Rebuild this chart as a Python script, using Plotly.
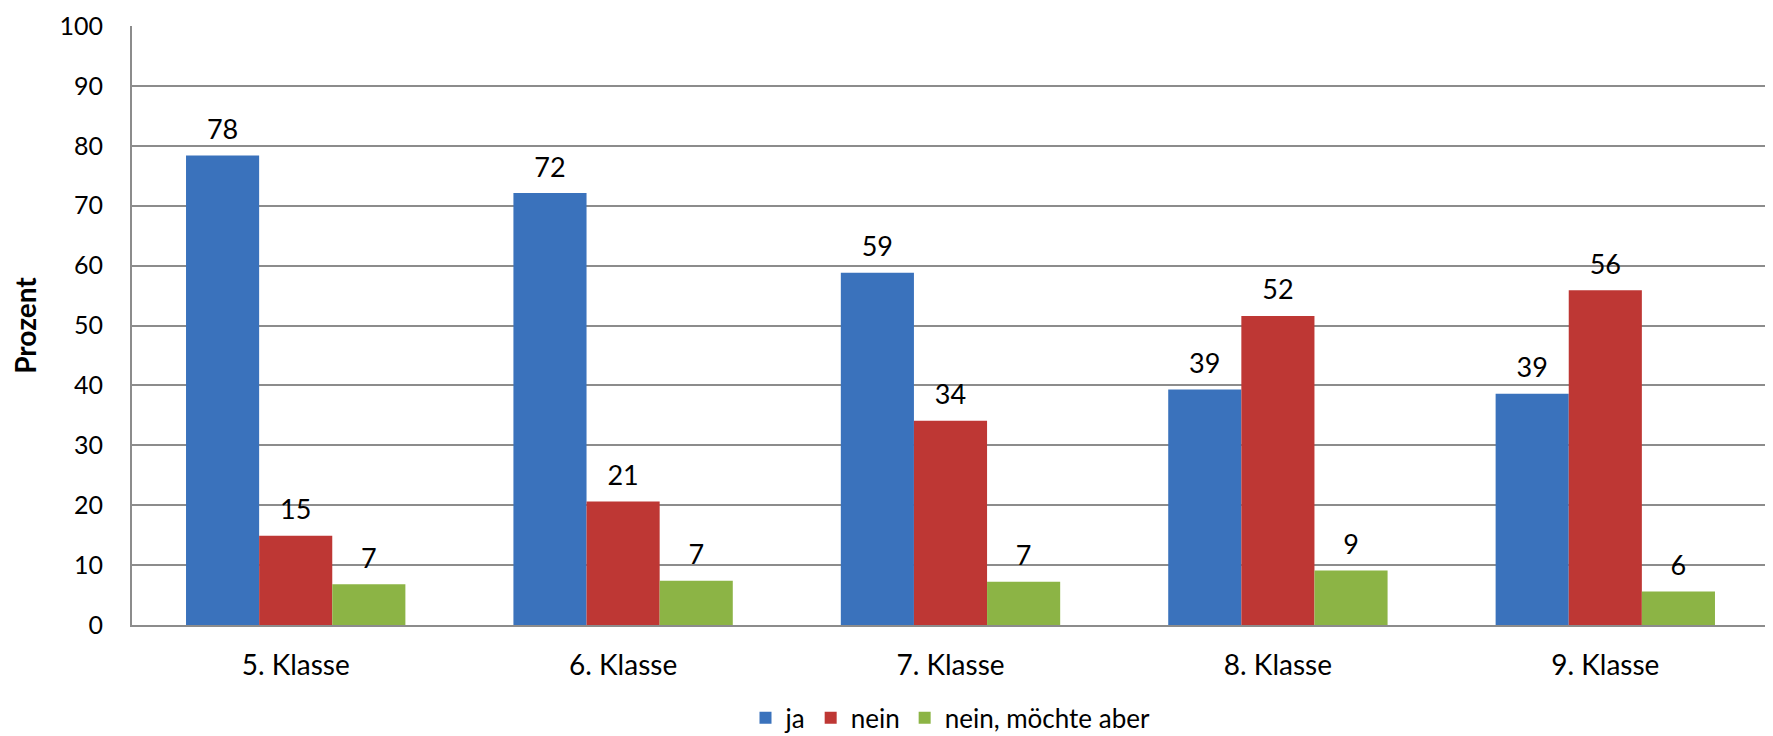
import plotly.graph_objects as go

klassen = ['5. Klasse', '6. Klasse', '7. Klasse', '8. Klasse', '9. Klasse']
ja = [78.4, 72.1, 58.8, 39.3, 38.6]
nein = [14.9, 20.6, 34.1, 51.6, 55.9]
nein_aber = [6.8, 7.4, 7.2, 9.1, 5.6]

series = [
    ('ja', ja, '#3A72BC'),
    ('nein', nein, '#BE3734'),
    ('nein, möchte aber', nein_aber, '#8CB445'),
]

FONT = 'Lato'

fig = go.Figure()

for i, (name, vals, color) in enumerate(series):
    fig.add_trace(go.Bar(
        x=klassen, y=vals, name=name,
        marker=dict(color=color, line=dict(width=0)),
        offsetgroup=str(i),
    ))

# data labels sit a bit above the bar tops, like in the original
for i, (name, vals, color) in enumerate(series):
    fig.add_trace(go.Scatter(
        x=klassen, y=vals, mode='markers+text',
        text=[f'{v:.0f}' for v in vals],
        textposition='top center',
        textfont=dict(family=FONT, size=27, color='#000000'),
        marker=dict(size=14, color='rgba(0,0,0,0)'),
        offsetgroup=str(i),
        showlegend=False, hoverinfo='skip',
    ))

# page body adds an 8px offset, margins compensate for it
fig.update_layout(
    width=1773, height=760,
    margin=dict(l=124, r=12, t=18, b=143),
    paper_bgcolor='white', plot_bgcolor='white',
    barmode='group', bargap=0.33, bargroupgap=0,
    scattermode='group', scattergap=0.33,
    font=dict(family=FONT, size=26, color='#000000'),
    legend=dict(
        orientation='h', x=0.5, xanchor='center',
        y=-0.155, yanchor='middle',
        font=dict(family=FONT, size=26),
        traceorder='normal',
    ),
    showlegend=True,
)

fig.update_yaxes(
    range=[0, 100], dtick=10, automargin=False,
    showgrid=True, gridcolor='#8C8C8C', gridwidth=2,
    showline=True, linecolor='#8C8C8C', linewidth=2,
    zeroline=False, ticks='', ticklabelstandoff=22,
    ticklabeloverflow='allow',
    tickfont=dict(family=FONT, size=25),
    title=dict(text='<b>Prozent</b>', font=dict(family=FONT, size=28), standoff=24),
)

fig.update_xaxes(
    automargin=False,
    showline=True, linecolor='#8C8C8C', linewidth=2,
    showgrid=False, ticks='', ticklabelstandoff=14,
    tickfont=dict(family=FONT, size=28),
)

fig.write_html("out.html")
